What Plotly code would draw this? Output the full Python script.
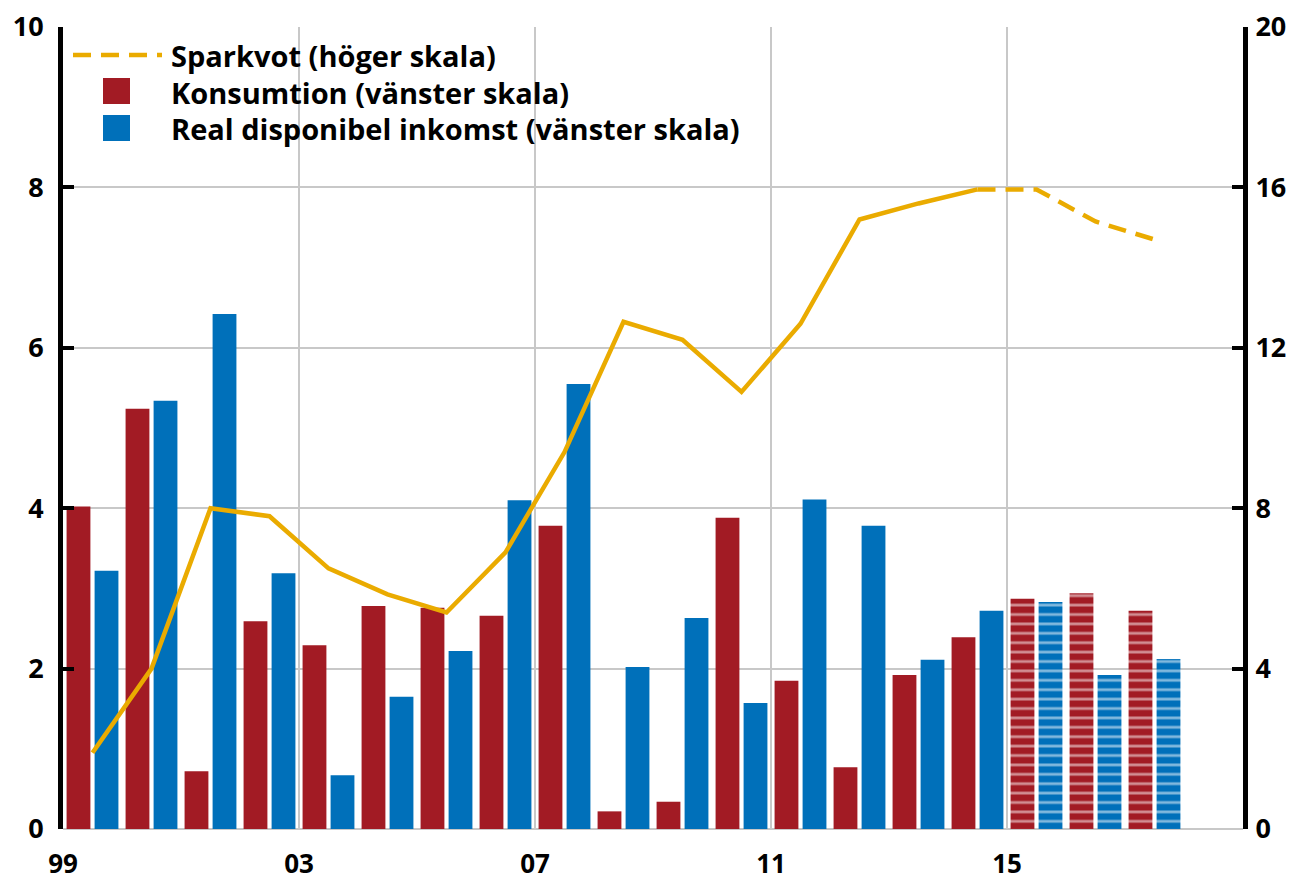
import plotly.graph_objects as go

years = list(range(1999, 2018))
konsumtion = [4.02, 5.24, 0.72, 2.59, 2.29, 2.78, 2.76, 2.66, 3.78, 0.22,
              0.34, 3.88, 1.85, 0.77, 1.92, 2.39, 2.87, 2.94, 2.72]
inkomst = [3.22, 5.34, 6.42, 3.19, 0.67, 1.65, 2.22, 4.10, 5.55, 2.02,
           2.63, 1.57, 4.11, 3.78, 2.11, 2.72, 2.83, 1.92, 2.12]
sparkvot = [1.9, 4.0, 8.0, 7.8, 6.5, 5.85, 5.4, 6.9, 9.4, 12.65,
            12.2, 10.9, 12.6, 15.2, 15.6, 15.95, 15.95, 15.15, 14.7]
forecast_from = 2015
sparkvot_dash_from = 2014

x_tickvals = [1999, 2003, 2007, 2011, 2015]
x_ticktext = ["99", "03", "07", "11", "15"]

legend_labels = ["Sparkvot (höger skala)", "Konsumtion (vänster skala)",
                 "Real disponibel inkomst (vänster skala)"]

RED = "#A21B24"
BLUE = "#0070BA"
GOLD = "#EAAB00"
GRID = "#C8C8C8"
FONT = "Open Sans"

xc = [y + 0.5 for y in years]
shapes_k = ["-" if y >= forecast_from else "" for y in years]

fig = go.Figure()
fig.add_trace(go.Bar(
    x=xc, y=konsumtion, name=legend_labels[1], yaxis="y",
    marker=dict(color=RED, line=dict(width=0),
                pattern=dict(shape=shapes_k, fgcolor="white", bgcolor=RED,
                             size=9.4, solidity=0.3)),
    showlegend=False))
fig.add_trace(go.Bar(
    x=xc, y=inkomst, name=legend_labels[2], yaxis="y",
    marker=dict(color=BLUE, line=dict(width=0),
                pattern=dict(shape=shapes_k, fgcolor="white", bgcolor=BLUE,
                             size=9.4, solidity=0.3)),
    showlegend=False))

i_dash = years.index(sparkvot_dash_from)
fig.add_trace(go.Scatter(
    x=xc[:i_dash + 1], y=sparkvot[:i_dash + 1], yaxis="y2", mode="lines",
    line=dict(color=GOLD, width=4.5), name=legend_labels[0], showlegend=False))
fig.add_trace(go.Scatter(
    x=xc[i_dash:], y=sparkvot[i_dash:], yaxis="y2", mode="lines",
    line=dict(color=GOLD, width=4.5, dash="18px,10px"), showlegend=False))

# page body has an 8px margin; figure placed at (8, 8) in the window
OFF = 8
FIG_W, FIG_H = 1294 - OFF, 880 - OFF
# plot area in window pixels: x 63..1243, y 27..829
L, R, T, B = 63, 1243, 27, 829
def px(x):
    return (x - L) / (R - L)
def py(y):
    return (B - y) / (B - T)

shapes = [
    dict(type="line", xref="paper", yref="paper", x0=px(73), x1=px(162),
         y0=py(55), y1=py(55), line=dict(color=GOLD, width=4.5, dash="18px,10px")),
    dict(type="rect", xref="paper", yref="paper", x0=px(103), x1=px(130),
         y0=py(78), y1=py(104), fillcolor=RED, line=dict(width=0)),
    dict(type="rect", xref="paper", yref="paper", x0=px(103), x1=px(130),
         y0=py(115), y1=py(141), fillcolor=BLUE, line=dict(width=0)),
]
annotations = []
for label, yc in zip(legend_labels, [55, 92, 129]):
    annotations.append(dict(
        xref="paper", yref="paper", x=px(169), y=py(yc), text=label,
        showarrow=False, xanchor="left", yanchor="middle",
        font=dict(family=FONT, size=29, color="black", weight="bold")))

tickfont = dict(family=FONT, size=27, color="black", weight="bold")
xtickfont = dict(family=FONT, size=26, color="black", weight="bold")

fig.update_layout(
    width=FIG_W, height=FIG_H,
    margin=dict(l=L - OFF, r=1294 - R, t=T - OFF, b=880 - B, pad=0),
    paper_bgcolor="white", plot_bgcolor="white",
    barmode="group", bargap=0.05, bargroupgap=0.15,
    shapes=shapes, annotations=annotations,
    xaxis=dict(range=[1999, 2019], tickvals=x_tickvals, ticktext=x_ticktext,
               showgrid=True, gridcolor=GRID, gridwidth=2, automargin=False,
               ticks="outside", ticklen=0, ticklabelstandoff=12,
               ticklabeloverflow="allow",
               tickfont=xtickfont, showline=False, zeroline=False),
    yaxis=dict(range=[0, 10], dtick=2, showgrid=True, gridcolor=GRID, gridwidth=2,
               zeroline=True, zerolinecolor=GRID, zerolinewidth=2, automargin=False,
               showline=True, linecolor="black", linewidth=5,
               ticks="inside", ticklen=11, tickwidth=4, tickcolor="black",
               ticklabelstandoff=9, ticklabeloverflow="allow", tickfont=tickfont),
    yaxis2=dict(range=[0, 20], dtick=4, overlaying="y", side="right",
                showgrid=False, zeroline=False, automargin=False,
                showline=True, linecolor="black", linewidth=5,
                ticks="inside", ticklen=11, tickwidth=4, tickcolor="black",
                ticklabelstandoff=2, ticklabeloverflow="allow", tickfont=tickfont),
    showlegend=False,
)

fig.write_html("out.html")
